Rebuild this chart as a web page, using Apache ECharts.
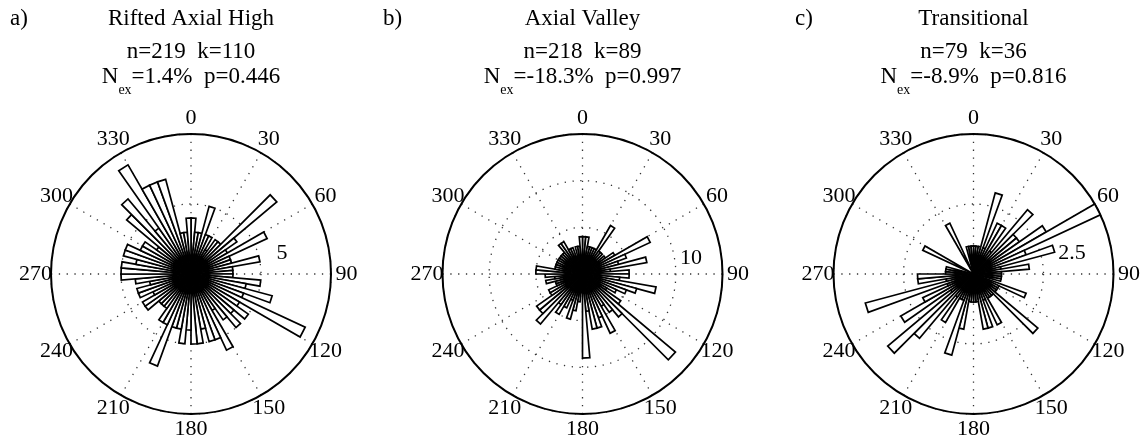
<!DOCTYPE html>
<html>
<head>
<meta charset="utf-8">
<script src="https://cdn.jsdelivr.net/npm/echarts@6/dist/echarts.min.js"></script>
<style>
  html, body { margin: 0; padding: 0; background: #fff; }
  #chart { width: 1146px; height: 442px; }
</style>
</head>
<body>
<div id="chart"></div>
<script>
// Rose diagrams of azimuths, 5-degree bins (bin start angle, degrees clockwise from north)
const binStarts = [
  0, 5, 10, 15, 20, 25, 30, 35, 40, 45, 50, 55, 60, 65, 70, 75, 80, 85,
  90, 95, 100, 105, 110, 115, 120, 125, 130, 135, 140, 145, 150, 155, 160, 165, 170, 175,
  180, 185, 190, 195, 200, 205, 210, 215, 220, 225, 230, 235, 240, 245, 250, 255, 260, 265,
  270, 275, 280, 285, 290, 295, 300, 305, 310, 315, 320, 325, 330, 335, 340, 345, 350, 355
];
const binWidth = 5;

// Counts per bin, same order as binStarts
const riftedCounts = [
  4, 3, 3, 5, 3, 3, 2, 3, 3, 8, 4, 3, 6, 3, 3, 5, 3, 3,
  3, 5, 4, 6, 4, 9, 4, 5, 4, 5, 4, 3, 6, 5, 5, 4, 5, 5,
  4, 5, 4, 4, 7, 4, 4, 3, 3, 3, 4, 4, 3, 4, 4, 3, 4, 5,
  5, 5, 4, 5, 5, 4, 4, 3, 6, 7, 4, 9, 7, 7, 7, 3, 3, 4
];
const valleyCounts = [
  4, 4, 3, 3, 3, 3, 6, 3, 3, 2, 3, 4, 8, 5, 4, 7, 3, 5,
  5, 4, 8, 6, 5, 4, 3, 5, 13, 6, 5, 4, 7, 5, 6, 6, 4, 9,
  2, 3, 4, 5, 3, 4, 5, 4, 7, 6, 6, 4, 4, 3, 3, 4, 3, 4,
  5, 5, 3, 3, 3, 3, 3, 3, 3, 3, 4, 4, 3, 3, 2, 3, 3, 4
];
const transitionalCounts = [
  1, 1, 1, 3, 1, 2, 2, 1, 3, 2, 2, 3, 5, 2, 3, 1, 2, 1,
  1, 1, 1, 0, 2, 1, 1, 1, 3, 1, 1, 1, 2, 1, 2, 2, 1, 1,
  1, 1, 2, 3, 1, 1, 2, 1, 3, 4, 1, 3, 2, 1, 4, 1, 2, 2,
  1, 1, 1, 0, 0, 2, 0, 0, 0, 0, 0, 0, 2, 0, 0, 1, 1, 1
];

const angleTicks = [0, 30, 60, 90, 120, 150, 180, 210, 240, 270, 300, 330];
const angleTickLabels = ['0', '30', '60', '90', '120', '150', '180', '210', '240', '270', '300', '330'];
const panelLetters = ['a)', 'b)', 'c)'];
const panelTitles = ['Rifted Axial High', 'Axial Valley', 'Transitional'];
const sampleLines = ['n=219  k=110', 'n=218  k=89', 'n=79  k=36'];
const excessLines = ['=1.4%  p=0.446', '=-18.3%  p=0.997', '=-8.9%  p=0.816'];
const radiusMax = [10, 15, 5];
const ringStep = [5, 5, 2.5];
const ringLabels = ['5', '10', '2.5'];

// Layout
const FONT = '"Liberation Serif", "Times New Roman", serif';
const centersX = [191, 582.5, 973.5];
const centerY = 274;
const plotRadius = 140;
const tickLabelReach = 1.11;          // angle labels sit just outside the rim
const letterX = [10, 383, 795];
const ringLabelOffset = [[91, -21], [108.5, -16], [98.5, -20.5]];
const countsByPanel = [riftedCounts, valleyCounts, transitionalCounts];

const dotted = { color: '#333', width: 1.3, type: [1.3, 6.5] };

function roseWedge(params, api) {
  const start = api.value(0);
  const count = api.value(1);
  if (!count) return null;
  const origin = api.coord([0, start]);
  const a = api.coord([count, start]);
  const b = api.coord([count, start + binWidth]);
  return {
    type: 'polygon',
    shape: { points: [origin, a, b] },
    style: { fill: '#fff', stroke: '#000', lineWidth: 1.7, lineJoin: 'miter' }
  };
}

function angleLabelItem(panel) {
  return function (params, api) {
    const ang = api.value(0);
    const p = api.coord([radiusMax[panel] * tickLabelReach, ang]);
    return {
      type: 'text',
      x: p[0],
      y: p[1],
      style: {
        text: angleTickLabels[params.dataIndex],
        font: '22px ' + FONT,
        fill: '#000',
        textAlign: 'center', align: 'center',
        textVerticalAlign: 'middle', verticalAlign: 'middle'
      }
    };
  };
}

const measureCtx = document.createElement('canvas').getContext('2d');
function textWidth(str, size) {
  measureCtx.font = size + 'px ' + FONT;
  return measureCtx.measureText(str).width;
}

const graphics = [];
panelTitles.forEach((title, i) => {
  const cx = centersX[i];
  graphics.push({ type: 'text', x: letterX[i], y: 18.5,
    style: { text: panelLetters[i], font: '23px ' + FONT, fill: '#000', textAlign: 'left', textVerticalAlign: 'middle' } });
  graphics.push({ type: 'text', x: cx, y: 18.5,
    style: { text: title, font: '23px ' + FONT, fill: '#000', textAlign: 'center', textVerticalAlign: 'middle' } });
  graphics.push({ type: 'text', x: cx, y: 52,
    style: { text: sampleLines[i], font: '23px ' + FONT, fill: '#000', textAlign: 'center', textVerticalAlign: 'middle' } });
  // N_ex line: main letter, subscript, remainder
  const wN = textWidth('N', 23);
  const wSub = textWidth('ex', 14);
  const wRest = textWidth(excessLines[i], 23);
  const x0 = cx - (wN + wSub + wRest) / 2;
  graphics.push({ type: 'text', x: x0, y: 76.5,
    style: { text: 'N', font: '23px ' + FONT, fill: '#000', textAlign: 'left', textVerticalAlign: 'middle' } });
  graphics.push({ type: 'text', x: x0 + wN, y: 90.5,
    style: { text: 'ex', font: '14px ' + FONT, fill: '#000', textAlign: 'left', textVerticalAlign: 'middle' } });
  graphics.push({ type: 'text', x: x0 + wN + wSub, y: 76.5,
    style: { text: excessLines[i], font: '23px ' + FONT, fill: '#000', textAlign: 'left', textVerticalAlign: 'middle' } });
  // ring value label
  graphics.push({ type: 'text', x: cx + ringLabelOffset[i][0], y: centerY + ringLabelOffset[i][1], z: 100,
    style: { text: ringLabels[i], font: '22px ' + FONT, fill: '#000', textAlign: 'center', textVerticalAlign: 'middle' } });
});

const roseSeries = countsByPanel.map((counts, i) => ({
  type: 'custom',
  coordinateSystem: 'polar',
  polarIndex: i,
  silent: true,
  encode: { angle: 0, radius: 1 },
  data: binStarts.map((b, j) => [b, counts[j]]),
  renderItem: roseWedge
}));

const labelSeries = centersX.map((cx, i) => ({
  type: 'custom',
  coordinateSystem: 'polar',
  polarIndex: i,
  silent: true,
  clip: false,
  encode: { angle: 0 },
  data: angleTicks.map(a => [a]),
  renderItem: angleLabelItem(i)
}));

const option = {
  animation: false,
  backgroundColor: '#fff',
  polar: centersX.map(cx => ({ center: [cx, centerY], radius: plotRadius })),
  angleAxis: centersX.map((cx, i) => ({
    polarIndex: i,
    type: 'value',
    min: 0,
    max: 360,
    interval: 30,
    startAngle: 90,
    clockwise: true,
    axisLine: { show: true, lineStyle: { color: '#000', width: 2 } },
    axisTick: { show: false },
    axisLabel: { show: false },
    splitLine: { show: true, lineStyle: dotted }
  })),
  radiusAxis: centersX.map((cx, i) => ({
    polarIndex: i,
    type: 'value',
    min: 0,
    max: radiusMax[i],
    interval: ringStep[i],
    axisLine: { show: false },
    axisTick: { show: false },
    axisLabel: { show: false },
    splitLine: { show: true, lineStyle: dotted }
  })),
  series: roseSeries.concat(labelSeries),
  graphic: { elements: graphics }
};

const chart = echarts.init(document.getElementById('chart'), null, { renderer: 'canvas' });
chart.setOption(option);
</script>
</body>
</html>
